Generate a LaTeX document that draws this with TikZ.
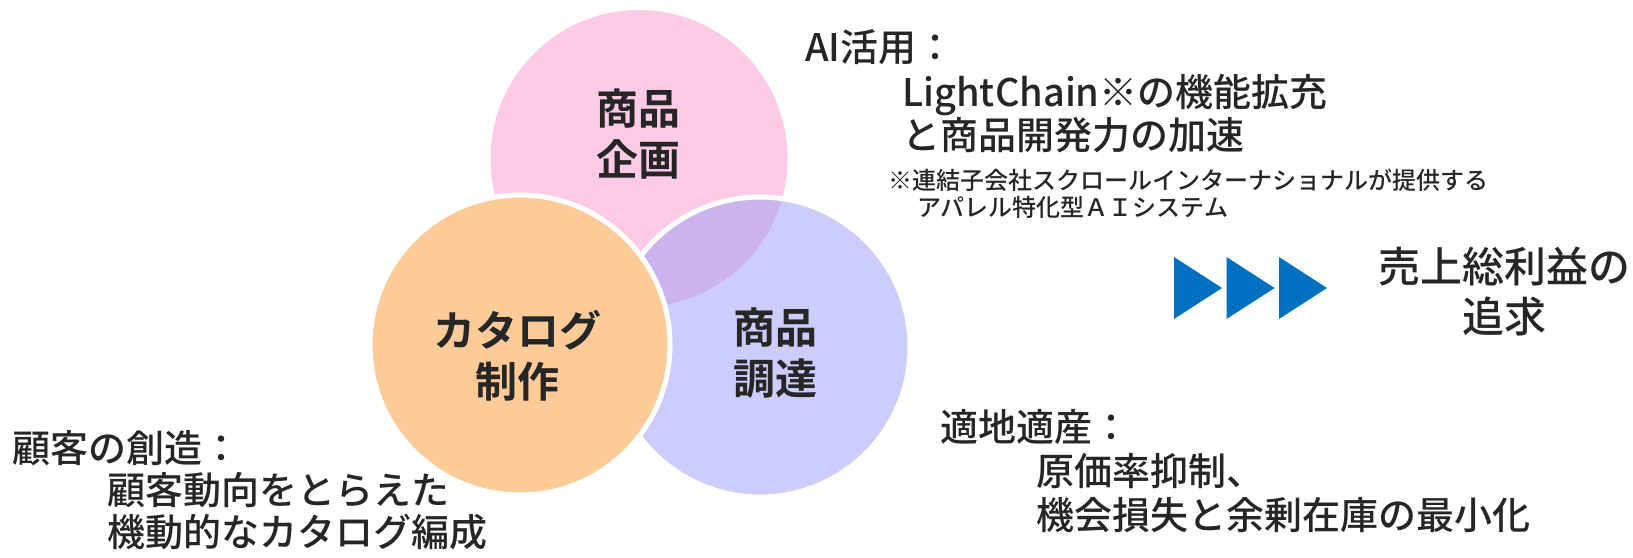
\documentclass[tikz,border=0pt]{standalone}
\usepackage{fontspec}
\usepackage{tikz}
\newfontfamily\jpbold{Noto Sans CJK JP Bold}
\newfontfamily\jpmed{Noto Sans CJK JP Medium}
\definecolor{tx}{RGB}{38, 38, 38}
\definecolor{pk}{RGB}{253, 203, 230}
\definecolor{bl}{RGB}{204, 204, 253}
\definecolor{pu}{RGB}{203, 180, 238}
\definecolor{og}{RGB}{253, 203, 152}
\definecolor{ar}{RGB}{0, 112, 192}

\tikzset{
  circtext/.style={align=center, font=\jpbold\fontsize{31.5pt}{38.5pt}\selectfont},
  note/.style={anchor=west, align=left, font=\jpmed\fontsize{28.5pt}{31.5pt}\selectfont},
  footnote/.style={anchor=west, align=left, font=\jpmed\fontsize{18pt}{20.25pt}\selectfont}
}

\begin{document}
\begin{tikzpicture}[every node/.style={inner sep=0pt, text=tx}]
\useasboundingbox (0pt, 0pt) rectangle (1224.75pt, -417.75pt);
% circles
\coordinate (pc) at (479.25pt, -118.9pt);
\coordinate (oc) at (390.0pt, -258.75pt);
\coordinate (bc) at (570.0pt, -260.25pt);
\fill [pk] (pc) circle (111.4pt);
\fill [bl] (bc) circle (112.5pt);
\begin{scope}
\clip (bc) circle (112.5pt);
\fill [pu] (pc) circle (111.4pt);
\end{scope}
\draw [white, line width=3.75pt] (bc) circle (112.5pt);
\fill [og, draw=white, line width=3.75pt] (oc) circle (112.5pt);
% circle labels
\node (plan) [circtext] at (478.5pt, -100.5pt) {商品\\企画};
\node (catalog) [circtext] at (387.75pt, -266.6pt) {カタログ\\制作};
\node (buy) [circtext] at (581.25pt, -264.75pt) {商品\\調達};
% notes
\node (ai) [note] at (603.75pt, -35.25pt) {AI活用：};
\node (aitext) [note, font=\jpmed\fontsize{28.5pt}{29.25pt}\selectfont] at (676.5pt, -85.1pt) {LightChain※の機能拡充\\と商品開発力の加速};
\node (aifoot) [footnote] at (666.0pt, -145.1pt) {※連結子会社スクロールインターナショナルが提供する\\\hspace*{21.75pt}アパレル特化型ＡＩシステム};
\node (customer) [note] at (9.0pt, -336.0pt) {顧客の創造：};
\node (customertext) [note] at (80.25pt, -383.6pt) {顧客動向をとらえた\\機動的なカタログ編成};
\node (local) [note] at (705.0pt, -320.25pt) {適地適産：};
\node (localtext) [note, font=\jpmed\fontsize{28.5pt}{33pt}\selectfont] at (777.0pt, -369.75pt) {原価率抑制、\\機会損失と余剰在庫の最小化};
% goal
\foreach \x in {880.5pt, 919.9pt, 959.25pt}
  \fill [ar] (\x, -192.75pt) -- ++(36pt, -23.25pt) -- ++(-36pt, -23.25pt) -- cycle;
\node (goal) [align=center, font=\jpmed\fontsize{31.5pt}{37.5pt}\selectfont] at (1128.0pt, -219.0pt) {売上総利益の\\追求};
\end{tikzpicture}
\end{document}
